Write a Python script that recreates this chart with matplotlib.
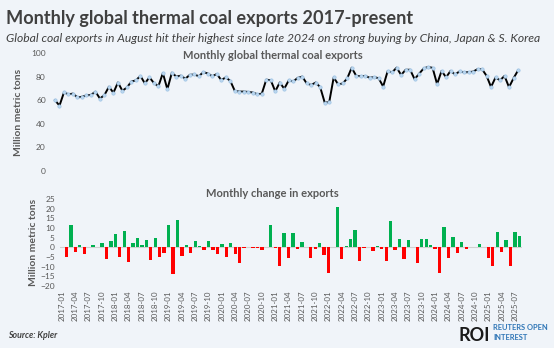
import numpy as np
import pandas as pd
import matplotlib
matplotlib.use('Agg')
import matplotlib.pyplot as plt

plt.rcParams['font.family'] = ['Lato', 'DejaVu Sans']

# Monthly thermal coal exports, million metric tons, Jan 2017 - Aug 2025
exports_2017 = [60.0, 55.4, 66.6, 65.0, 65.6, 62.4, 62.9, 64.1, 64.5, 67.2, 61.4, 64.4]
exports_2018 = [71.4, 66.3, 75.0, 68.0, 70.8, 75.8, 76.8, 80.6, 74.2, 79.4, 74.6, 71.8]
exports_2019 = [83.0, 69.3, 83.3, 80.0, 80.8, 78.2, 81.5, 81.8, 80.3, 83.8, 82.6, 80.3]
exports_2020 = [82.2, 77.0, 79.4, 76.3, 67.9, 67.3, 67.3, 67.0, 66.5, 65.1, 65.5, 77.4]
exports_2021 = [76.9, 67.5, 75.0, 69.7, 76.8, 75.9, 78.9, 80.0, 74.2, 72.9, 75.0, 71.0]
exports_2022 = [58.0, 58.3, 79.3, 73.4, 74.2, 78.4, 87.5, 80.7, 80.3, 80.6, 79.0, 79.6]
exports_2023 = [78.6, 71.6, 84.6, 83.6, 87.6, 81.4, 85.8, 85.8, 77.8, 82.4, 86.9, 88.2]
exports_2024 = [87.4, 73.6, 84.8, 79.4, 84.9, 81.8, 84.4, 83.6, 83.8, 84.2, 86.3, 86.3]
exports_2025 = [80.7, 71.2, 79.3, 76.8, 80.6, 71.0, 78.6, 85.2]

# Month-on-month change, million metric tons (no value for the first month)
change_2017 = [np.nan, -4.8, 11.4, -2.2, 1.0, -3.3, 0.3, 1.2, 0.3, 2.4, -5.9, 3.1]
change_2018 = [6.9, -5.2, 8.4, -7.4, 2.4, 4.7, 1.2, 3.6, -6.7, 4.8, -5.2, -2.8]
change_2019 = [11.4, -13.8, 14.1, -4.3, 1.4, -2.8, 3.1, 0.5, -1.4, 3.1, -1.4, -3.4]
change_2020 = [1.9, -5.2, 2.1, -3.3, -7.9, -0.6, 0.1, -0.2, -0.4, -1.5, 0.4, 11.5]
change_2021 = [-0.5, -9.5, 7.6, -5.3, 7.2, -1.0, 2.9, 0.3, -5.7, -1.0, 2.2, -4.0]
change_2022 = [-13.1, 0.3, 20.7, -6.0, 0.7, 4.3, 9.0, -6.9, -0.5, 0.2, -1.9, 0.7]
change_2023 = [-1.0, -6.9, 13.6, -1.4, 4.1, -6.0, 3.8, 0.0, -7.9, 4.3, 4.3, 1.2]
change_2024 = [-1.0, -13.4, 10.5, -5.3, 5.3, -3.1, 2.6, -0.9, 0.2, 0.3, 1.9, 0.0]
change_2025 = [-5.7, -9.5, 8.1, -2.6, 3.8, -9.8, 8.1, 6.0]

exports = np.array(exports_2017 + exports_2018 + exports_2019 + exports_2020 +
                   exports_2021 + exports_2022 + exports_2023 + exports_2024 +
                   exports_2025)
change = np.array(change_2017 + change_2018 + change_2019 + change_2020 +
                  change_2021 + change_2022 + change_2023 + change_2024 +
                  change_2025)

months = pd.period_range('2017-01', periods=len(exports), freq='M').strftime('%Y-%m')
x = np.arange(len(months))

BG = '#F0F4F9'
GREY = '#595959'

fig = plt.figure(figsize=(5.54, 3.48), dpi=100, facecolor=BG)

fig.text(0.011, 0.948, 'Monthly global thermal coal exports 2017-present',
         fontsize=13.1, fontweight='bold', color='#404040', va='center')
fig.text(0.011, 0.888, 'Global coal exports in August hit their highest since '
         'late 2024 on strong buying by China, Japan & S. Korea',
         fontsize=8.75, style='italic', color='#404040', va='center')

# ---- top panel: export levels ----
ax1 = fig.add_axes([0.0952, 0.5086, 0.8439, 0.3391], facecolor=BG)
ax1.plot(x, exports, color='black', lw=1.4, marker='o', ms=2.4,
         mfc='#BDD7EE', mec='#9DC3E6', mew=0.5, zorder=3)
ax1.set_xlim(-0.5, len(x) - 0.5)
ax1.set_ylim(0, 100)
ax1.set_yticks(np.arange(0, 101, 20))
ax1.set_xticks([])
ax1.tick_params(axis='y', length=0, labelsize=6, labelcolor=GREY, pad=5)
for s in ax1.spines.values():
    s.set_visible(False)
ax1.set_ylabel('Million metric tons', fontsize=7.5, color=GREY,
               fontweight='bold', labelpad=6)
ax1.text(0.47, 0.975, 'Monthly global thermal coal exports', transform=ax1.transAxes,
         ha='center', va='center', fontsize=8, fontweight='bold', color=GREY)

# ---- bottom panel: monthly change ----
ax2 = fig.add_axes([0.1079, 0.1782, 0.8338, 0.25], facecolor=BG)
colors = np.where(change >= 0, '#00B050', '#FF0000')
ax2.bar(x, np.nan_to_num(change), width=0.75, color=colors, zorder=3)
ax2.axhline(0, color='#D0D0D0', lw=0.8, zorder=2)
ax2.set_xlim(-0.5, len(x) - 0.5)
ax2.set_ylim(-20, 25)
ax2.set_yticks(np.arange(-20, 26, 5))
ax2.set_xticks(x[::3])
ax2.set_xticklabels(months[::3], rotation=90, color=GREY)
ax2.tick_params(axis='both', length=0, labelsize=6, labelcolor=GREY)
ax2.tick_params(axis='x', labelsize=5.7, pad=3)
for s in ax2.spines.values():
    s.set_visible(False)
ax2.set_ylabel('Million metric tons', fontsize=7.5, color=GREY,
               fontweight='bold', labelpad=2)
fig.text(0.491, 0.443, 'Monthly change in exports', ha='center', va='center',
         fontsize=8, fontweight='bold', color=GREY)

# ---- footer ----
fig.text(0.014, 0.037, 'Source: Kpler', fontsize=6.3, style='italic',
         fontweight='bold', color='#404040', va='center')
fig.text(0.828, 0.037, 'ROI', fontsize=13, fontweight='bold', color='#1A1A1A',
         va='center')
fig.text(0.890, 0.060, 'REUTERS OPEN', fontsize=5.4, color='#2E75B6',
         va='center', fontweight='bold')
fig.text(0.890, 0.030, 'INTEREST', fontsize=5.4, color='#2E75B6',
         va='center', fontweight='bold')

fig.savefig('out.png', dpi=100, facecolor=BG)
